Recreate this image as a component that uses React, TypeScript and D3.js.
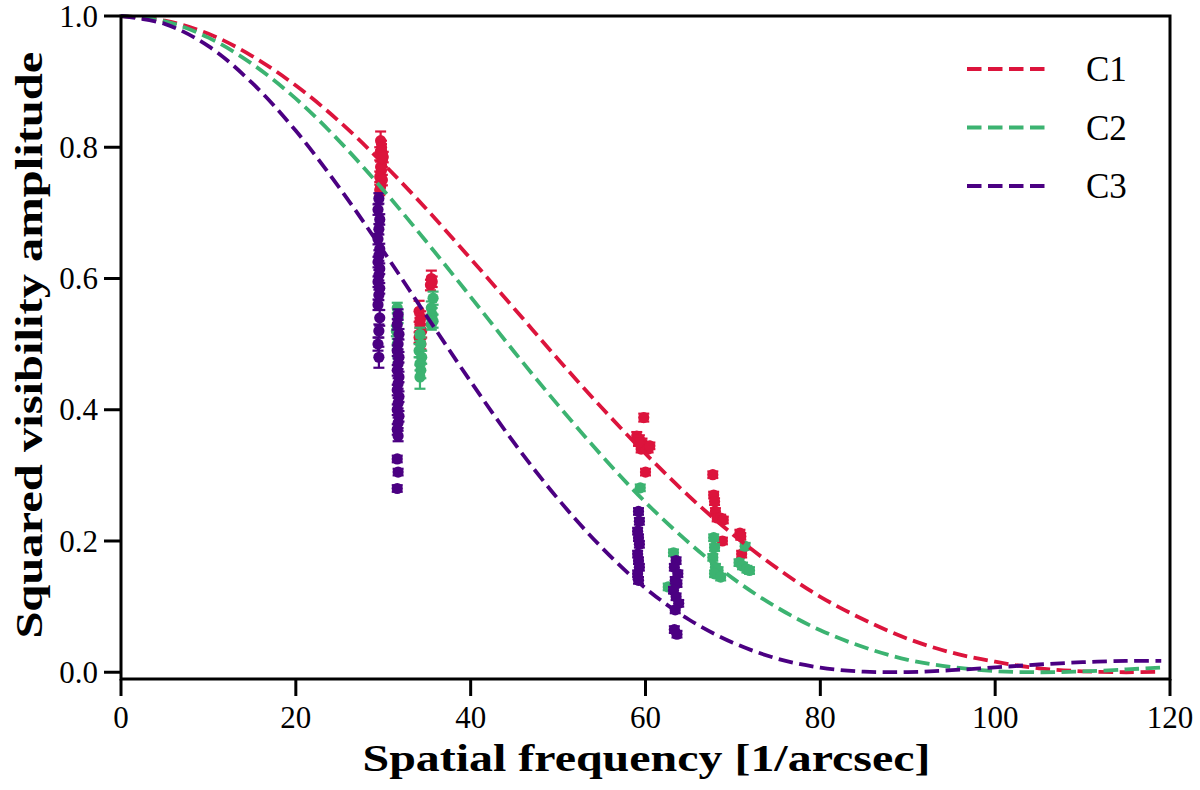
import * as d3 from "d3";

const freqGrid = [0, 5, 10, 15, 20, 25, 30, 35, 40, 45, 50, 55, 60, 65, 70, 75, 80, 85, 90, 95, 100, 105, 110, 115, 119];
const c1Model = [1, 0.993, 0.973, 0.939, 0.894, 0.839, 0.775, 0.705, 0.630, 0.554, 0.477, 0.403, 0.333, 0.268, 0.210, 0.159, 0.115, 0.080, 0.051, 0.030, 0.016, 0.006, 0.0014, 0.0, 0.0008];
const c2Model = [1, 0.992, 0.967, 0.927, 0.874, 0.809, 0.735, 0.655, 0.572, 0.488, 0.407, 0.330, 0.259, 0.197, 0.143, 0.099, 0.064, 0.038, 0.019, 0.008, 0.0017, 0.0, 0.0012, 0.0043, 0.0072];
const c3Model = [1, 0.988, 0.954, 0.898, 0.825, 0.738, 0.642, 0.542, 0.443, 0.349, 0.264, 0.190, 0.128, 0.080, 0.045, 0.021, 0.007, 0.0009, 0.0003, 0.0031, 0.0074, 0.0118, 0.0153, 0.0172, 0.0174];

// measured points: frequency, squared visibility, error
const c1Freq = [29.7, 29.8, 29.6, 29.9, 29.7, 29.8, 29.6, 29.9, 29.7, 29.6, 29.8, 30.0, 34.1, 34.3, 34.2, 34.4, 34.1, 34.3, 34.2, 35.5, 35.4, 35.6, 59.8, 59.0, 59.3, 59.6, 60.0, 60.3, 59.5, 59.2, 60.5, 60.0, 67.7, 67.8, 67.9, 68.0, 68.2, 68.6, 68.9, 68.8, 70.8, 70.9, 71.0];
const c1V2 = [0.81, 0.80, 0.79, 0.78, 0.77, 0.765, 0.755, 0.75, 0.74, 0.735, 0.795, 0.785, 0.55, 0.54, 0.53, 0.52, 0.51, 0.50, 0.535, 0.60, 0.59, 0.595, 0.388, 0.36, 0.355, 0.35, 0.345, 0.34, 0.34, 0.35, 0.345, 0.305, 0.301, 0.27, 0.26, 0.245, 0.235, 0.235, 0.232, 0.20, 0.212, 0.207, 0.18];
const c1Err = [0.014, 0.01, 0.01, 0.01, 0.008, 0.008, 0.008, 0.008, 0.008, 0.008, 0.01, 0.008, 0.016, 0.01, 0.01, 0.01, 0.008, 0.008, 0.01, 0.012, 0.008, 0.008, 0.006, 0.006, 0.006, 0.006, 0.006, 0.005, 0.005, 0.005, 0.005, 0.005, 0.005, 0.005, 0.005, 0.005, 0.005, 0.005, 0.005, 0.005, 0.005, 0.005, 0.005];

const c2Freq = [31.6, 31.7, 31.5, 31.6, 31.7, 34.2, 34.3, 34.1, 34.4, 34.2, 34.3, 34.2, 35.7, 35.5, 35.6, 35.7, 35.5, 59.4, 63.2, 62.6, 67.8, 67.9, 67.7, 68.0, 68.3, 67.9, 68.6, 71.4, 70.7, 71.1, 71.6, 71.9];
const c2V2 = [0.555, 0.54, 0.52, 0.50, 0.48, 0.515, 0.50, 0.49, 0.48, 0.47, 0.46, 0.45, 0.57, 0.555, 0.545, 0.535, 0.53, 0.281, 0.182, 0.13, 0.205, 0.19, 0.175, 0.16, 0.155, 0.15, 0.145, 0.192, 0.167, 0.162, 0.157, 0.155];
const c2Err = [0.008, 0.008, 0.008, 0.008, 0.008, 0.01, 0.01, 0.01, 0.01, 0.01, 0.012, 0.018, 0.01, 0.01, 0.01, 0.01, 0.008, 0.005, 0.005, 0.005, 0.005, 0.005, 0.005, 0.005, 0.005, 0.005, 0.005, 0.005, 0.005, 0.005, 0.005, 0.005];

const c3Freq = [29.5, 29.4, 29.6, 29.5, 29.4, 29.6, 29.5, 29.4, 29.6, 29.5, 29.4, 29.6, 29.5, 29.4, 29.6, 29.5, 29.4, 29.5, 31.7, 31.6, 31.8, 31.7, 31.6, 31.8, 31.7, 31.6, 31.8, 31.7, 31.6, 31.8, 31.7, 31.6, 31.8, 31.7, 31.6, 31.7, 31.6, 31.7, 31.6, 59.2, 59.3, 59.1, 59.2, 59.3, 59.1, 59.2, 59.3, 59.1, 59.2, 63.5, 63.3, 63.7, 63.4, 63.6, 63.2, 63.5, 63.8, 63.4, 63.3, 63.6];
const c3V2 = [0.722, 0.705, 0.69, 0.675, 0.66, 0.645, 0.635, 0.625, 0.615, 0.605, 0.595, 0.585, 0.575, 0.56, 0.54, 0.52, 0.50, 0.48, 0.545, 0.53, 0.515, 0.50, 0.49, 0.48, 0.47, 0.46, 0.45, 0.44, 0.43, 0.42, 0.41, 0.40, 0.39, 0.38, 0.37, 0.36, 0.325, 0.305, 0.28, 0.245, 0.23, 0.215, 0.205, 0.195, 0.18, 0.17, 0.16, 0.15, 0.14, 0.17, 0.16, 0.15, 0.14, 0.135, 0.125, 0.115, 0.105, 0.095, 0.065, 0.058];
const c3Err = [0.008, 0.008, 0.008, 0.008, 0.008, 0.008, 0.008, 0.008, 0.008, 0.008, 0.008, 0.008, 0.008, 0.008, 0.012, 0.01, 0.01, 0.016, 0.008, 0.008, 0.008, 0.008, 0.008, 0.008, 0.008, 0.008, 0.008, 0.008, 0.008, 0.008, 0.008, 0.008, 0.008, 0.008, 0.008, 0.008, 0.005, 0.005, 0.005, 0.005, 0.005, 0.005, 0.005, 0.005, 0.005, 0.005, 0.005, 0.005, 0.005, 0.005, 0.005, 0.005, 0.005, 0.005, 0.005, 0.005, 0.005, 0.005, 0.005, 0.005];

const seriesNames = ["C1", "C2", "C3"];
const seriesColors = ["crimson", "mediumseagreen", "indigo"];
const xTicks = [0, 20, 40, 60, 80, 100, 120];
const yTicks = [0.0, 0.2, 0.4, 0.6, 0.8, 1.0];

const width = 1200;
const height = 790;
const marginLeft = 121;
const marginRight = 30;
const marginTop = 16;
const marginBottom = 111;

export default function App() {
  const x = d3.scaleLinear([0, 120], [marginLeft, width - marginRight]);
  const y = d3.scaleLinear([-0.0103, 1.0], [height - marginBottom, marginTop]);
  const line = d3.line<number>((d, i) => x(freqGrid[i]), (d) => y(d)).curve(d3.curveCatmullRom);

  const models = [c1Model, c2Model, c3Model];
  const points = [
    { f: c1Freq, v: c1V2, e: c1Err },
    { f: c2Freq, v: c2V2, e: c2Err },
    { f: c3Freq, v: c3V2, e: c3Err },
  ];
  const font = "'Liberation Serif', 'DejaVu Serif', serif";

  return (
    <svg width={width} height={height} style={{ position: "absolute", left: 0, top: 0, background: "white" }} fontFamily={font}>
      {/* data points with error bars */}
      {points.map((s, k) => (
        <g key={k} fill={seriesColors[k]} stroke={seriesColors[k]}>
          {s.f.map((f, i) => (
            <g key={i}>
              <line x1={x(f)} x2={x(f)} y1={y(s.v[i] - s.e[i])} y2={y(s.v[i] + s.e[i])} strokeWidth={2.2} />
              <line x1={x(f) - 5.5} x2={x(f) + 5.5} y1={y(s.v[i] + s.e[i])} y2={y(s.v[i] + s.e[i])} strokeWidth={2.2} />
              <line x1={x(f) - 5.5} x2={x(f) + 5.5} y1={y(s.v[i] - s.e[i])} y2={y(s.v[i] - s.e[i])} strokeWidth={2.2} />
              <circle cx={x(f)} cy={y(s.v[i])} r={5.6} stroke="none" />
            </g>
          ))}
        </g>
      ))}

      {/* model curves */}
      {models.map((m, k) => (
        <path key={k} d={line(m) ?? ""} fill="none" stroke={seriesColors[k]} strokeWidth={3.8} strokeDasharray="14.5 6.5" />
      ))}

      {/* frame */}
      <rect x={marginLeft} y={marginTop} width={width - marginLeft - marginRight} height={height - marginTop - marginBottom} fill="none" stroke="black" strokeWidth={3} />

      {/* x ticks */}
      {xTicks.map((t) => (
        <g key={t} transform={`translate(${x(t)},${height - marginBottom})`}>
          <line y2={17} stroke="black" strokeWidth={3} />
          <text y={49} textAnchor="middle" fontSize={31}>{t}</text>
        </g>
      ))}
      {/* y ticks */}
      {yTicks.map((t) => (
        <g key={t} transform={`translate(${marginLeft},${y(t)})`}>
          <line x2={-17} stroke="black" strokeWidth={3} />
          <text x={-23} dy="0.34em" textAnchor="end" fontSize={31}>{t.toFixed(1)}</text>
        </g>
      ))}

      <text x={(x(0) + x(120)) / 2 + 1} y={771} textAnchor="middle" fontSize={38} fontWeight="bold" textLength={568} lengthAdjust="spacingAndGlyphs">Spatial frequency [1/arcsec]</text>
      <text transform={`translate(42,${(y(0) + y(1)) / 2 + 1}) rotate(-90)`} textAnchor="middle" fontSize={38} fontWeight="bold" textLength={587} lengthAdjust="spacingAndGlyphs">Squared visibility amplitude</text>

      {/* legend */}
      {seriesNames.map((n, k) => (
        <g key={n} transform={`translate(967,${69 + k * 58.5})`}>
          <line x1={0} x2={82} stroke={seriesColors[k]} strokeWidth={3.8} strokeDasharray="14.5 6.5" />
          <text x={119} dy="0.35em" fontSize={35}>{n}</text>
        </g>
      ))}
    </svg>
  );
}
